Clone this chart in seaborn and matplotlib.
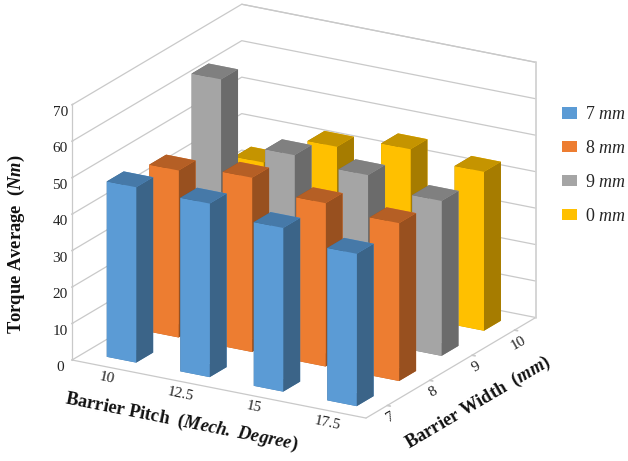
import matplotlib
matplotlib.use("Agg")
import matplotlib.pyplot as plt
import seaborn as sns
from matplotlib.patches import Patch
from mpl_toolkits.mplot3d import proj3d

# Average torque for each barrier pitch / barrier width combination
pitch_labels = ["10", "12.5", "15", "17.5"]
width_labels = ["7", "8", "9", "10"]
legend_labels = ["7", "8", "9", "0"]
torque_7mm = [48.1, 47.6, 44.9, 41.8]
torque_8mm = [45.8, 47.8, 44.8, 43.3]
torque_9mm = [63.9, 47.1, 45.6, 42.5]
torque_10mm = [34.2, 42.5, 45.8, 43.6]
z_ticks = [0, 10, 20, 30, 40, 50, 60, 70]

# front, side and top shades for each width series
front_colors = ["#5B9BD5", "#ED7D31", "#A5A5A5", "#FFC000"]
side_colors = ["#3B6488", "#98501F", "#6B6B6B", "#A67C00"]
top_colors = ["#4679A8", "#B55F25", "#808080", "#C59400"]

sns.set_theme(style="white")
plt.rcParams["font.family"] = ["Liberation Serif", "DejaVu Serif"]
plt.rcParams["mathtext.fontset"] = "custom"
plt.rcParams["mathtext.rm"] = "Liberation Serif"
plt.rcParams["mathtext.it"] = "Liberation Serif:italic"
plt.rcParams["mathtext.bf"] = "Liberation Serif:bold"
plt.rcParams["mathtext.bfit"] = "Liberation Serif:italic:bold"

W, H = 628, 461
SIDE = 628
fig = plt.figure(figsize=(W / 100, H / 100), dpi=100)
ax = fig.add_axes([0, 0, SIDE / W, SIDE / H], projection="3d", proj_type="ortho", computed_zorder=False)
ax.view_init(elev=20, azim=-60)
ax.set_xlim(0, 4, view_margin=0)
ax.set_ylim(0, 4, view_margin=0)
ax.set_zlim(0, 70, view_margin=0)
ax.patch.set_alpha(0)


def to_pixels(x, y, z):
    ax.apply_aspect()
    px, py, _ = proj3d.proj_transform(x, y, z, ax.get_proj())
    return ax.transData.transform((px, py))


# Scale and shift the axes box so the floor corners land on the wanted spot
ax.set_box_aspect((1, 1, 0.8), zoom=1.0)
span = to_pixels(4, 0, 0)[0] - to_pixels(0, 0, 0)[0]
ax.set_box_aspect((1, 1, 0.8), zoom=294 / span)
ox, oy = to_pixels(0, 0, 0)
ax.set_position([(72 - ox) / W, ((H - 360) - oy) / H, SIDE / W, SIDE / H])

# Walls: horizontal guide lines at every z tick, plus the outer frame
line_style = dict(color="#C9C9C9", lw=0.9, zorder=1)
for z in z_ticks:
    ax.plot([0, 0, 4], [0, 4, 4], [z, z, z], **line_style)
ax.plot([0, 0], [0, 0], [0, 70], **line_style)
ax.plot([4, 4], [0, 4], [0, 0], **line_style)
ax.plot([0, 4], [0, 0], [0, 0], **line_style)
ax.plot([0, 4], [4, 4], [70, 70], **line_style)
ax.plot([4, 4], [4, 4], [0, 70], color="#D2D2D2", lw=1.3, zorder=1)

series = [torque_7mm, torque_8mm, torque_9mm, torque_10mm]
order = 2
for j in range(3, -1, -1):
    for i in range(4):
        colors = [top_colors[j], top_colors[j], front_colors[j], front_colors[j],
                  side_colors[j], side_colors[j]]
        ax.bar3d(i + 0.3, j + 0.3, 0, 0.4, 0.4, series[j][i], color=colors,
                 shade=False, zorder=order, linewidth=0)
        order += 1

for axis in (ax.xaxis, ax.yaxis, ax.zaxis):
    axis.set_pane_color((1, 1, 1, 0))
    axis.pane.set_edgecolor((1, 1, 1, 0))
    axis.line.set_color((1, 1, 1, 0))
ax.grid(False)

ax.set_xticks([i + 0.5 for i in range(4)], pitch_labels)
ax.set_yticks([i + 0.5 for i in range(4)], width_labels)
ax.set_zticks(z_ticks)
ax.zaxis.set_ticks_position("lower")
tick_color = "#C9C9C9"
ax.tick_params(axis="x", labelsize=11, labelrotation=-12, pad=-6, labelcolor="#222222", length=0)
ax.tick_params(axis="y", labelsize=11, labelrotation=30, pad=-5, labelcolor="#222222", color=tick_color)
ax.tick_params(axis="z", labelsize=11, pad=-2, labelcolor="#222222", color=tick_color)
ax.xaxis._axinfo["tick"].update(inward_factor=0, outward_factor=0)
ax.yaxis._axinfo["tick"].update(inward_factor=0.13, outward_factor=0)
ax.zaxis._axinfo["tick"].update(inward_factor=0, outward_factor=0.05)

# Axis titles sit off-centre from their edges, so they are placed in figure pixels
label_font = dict(fontsize=13.3, fontweight="bold", color="#111111", ha="center", va="center",
                  rotation_mode="anchor")
fig.text(181 / W, 1 - 422 / H, r"Barrier Pitch  ($\mathbfit{Mech.\ Degree}$)", rotation=-11.3, **label_font)
fig.text(478 / W, 1 - 403 / H, r"Barrier Width  ($\mathbfit{mm}$)", rotation=30.5, **label_font)
fig.text(16 / W, 1 - 244 / H, r"Torque Average  ($\mathbfit{Nm}$)", rotation=90, **label_font)

handles = [Patch(facecolor=c, edgecolor="none") for c in front_colors]
labels = [rf"{w} $\mathit{{mm}}$" for w in legend_labels]
fig.legend(handles, labels, loc="upper left", bbox_to_anchor=(556 / W, 1 - 100 / H),
           frameon=False, fontsize=13, handlelength=0.83, handleheight=0.6,
           handletextpad=0.44, labelspacing=0.93, borderpad=0, borderaxespad=0.35)

fig.savefig("out.png", dpi=100)
